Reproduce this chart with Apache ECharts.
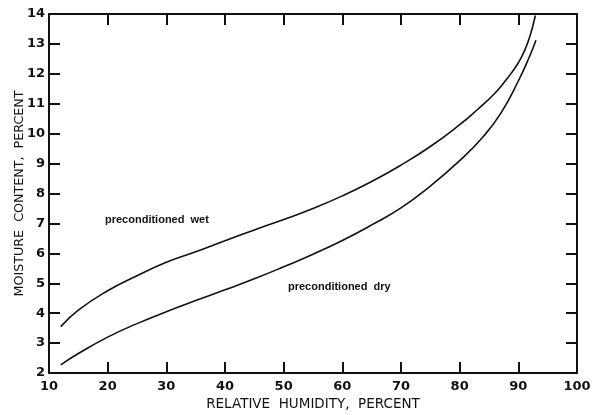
<!DOCTYPE html>
<html><head><meta charset="utf-8">
<script src="https://cdn.jsdelivr.net/npm/echarts@6/dist/echarts.min.js"></script>
<style>html,body{margin:0;padding:0;background:#fff}#c{width:603px;height:415px}</style>
</head><body><div id="c"></div>
<script>
const humidity = [12, 15, 20, 25, 30, 35, 40, 45, 50, 55, 60, 65, 70, 75, 80, 83, 86, 88, 89, 90, 91, 92, 92.9];
const wet = [3.55, 4.1, 4.75, 5.25, 5.7, 6.05, 6.42, 6.78, 7.13, 7.5, 7.92, 8.4, 8.95, 9.57, 10.3, 10.8, 11.35, 11.82, 12.08, 12.37, 12.75, 13.27, 13.95];
const humidityDry = [12, 15, 20, 25, 30, 35, 40, 45, 50, 55, 60, 65, 70, 75, 80, 84, 87, 90, 92, 93];
const dry = [2.27, 2.65, 3.2, 3.65, 4.05, 4.42, 4.78, 5.15, 5.55, 5.97, 6.43, 6.95, 7.52, 8.25, 9.1, 9.9, 10.68, 11.76, 12.62, 13.12];
const xTicks = [10, 100, 10];
const yTicks = [2, 14, 1];
const labelWet = "preconditioned  wet";
const labelDry = "preconditioned  dry";
const xName = "RELATIVE  HUMIDITY,  PERCENT";
const yName = "MOISTURE  CONTENT,  PERCENT";

const font = '"Liberation Sans", Arial, sans-serif';
const numFont = '"DejaVu Sans", sans-serif';
const chart = echarts.init(document.getElementById('c'));
const axisLine = {show: true, lineStyle: {color: '#111', width: 2}};
const tickIn = {show: true, inside: true, length: 11, lineStyle: {color: '#111', width: 2}};
chart.setOption({
  animation: false,
  backgroundColor: '#fff',
  grid: {left: 49, right: 26, top: 14, bottom: 42, containLabel: false, outerBoundsMode: 'none'},
  xAxis: [
    {type: 'value', min: xTicks[0], max: xTicks[1], interval: xTicks[2], position: 'bottom',
     axisLine, axisTick: tickIn, splitLine: {show: false},
     axisLabel: {color: '#111', fontFamily: numFont, fontWeight: 'bold', fontSize: 13, margin: 7},
     name: xName, nameLocation: 'middle', nameGap: 24, nameMoveOverlap: false,
     nameTextStyle: {color: '#111', fontFamily: numFont, fontSize: 13.5}},
    {type: 'value', min: xTicks[0], max: xTicks[1], interval: xTicks[2], position: 'top',
     axisLine, axisTick: tickIn, splitLine: {show: false}, axisLabel: {show: false}}
  ],
  yAxis: [
    {type: 'value', min: yTicks[0], max: yTicks[1], interval: yTicks[2], position: 'left',
     axisLine, axisTick: tickIn, splitLine: {show: false},
     axisLabel: {color: '#111', fontFamily: numFont, fontWeight: 'bold', fontSize: 13, margin: 4},
     name: yName, nameLocation: 'middle', nameGap: 23, nameMoveOverlap: false,
     nameTextStyle: {color: '#111', fontFamily: numFont, fontSize: 12.7}},
    {type: 'value', min: yTicks[0], max: yTicks[1], interval: yTicks[2], position: 'right',
     axisLine, axisTick: tickIn, splitLine: {show: false}, axisLabel: {show: false}}
  ],
  series: [
    {type: 'line', smooth: 0.5, showSymbol: false, data: humidity.map((h, i) => [h, wet[i]]),
     lineStyle: {color: '#111', width: 1.6}},
    {type: 'line', smooth: 0.5, showSymbol: false, data: humidityDry.map((h, i) => [h, dry[i]]),
     lineStyle: {color: '#111', width: 1.6}}
  ],
  graphic: [
    {type: 'text', left: 105, top: 214, style: {text: labelWet, fill: '#111', font: 'bold 11px ' + font}},
    {type: 'text', left: 288, top: 281, style: {text: labelDry, fill: '#111', font: 'bold 11px ' + font}}
  ]
});
</script></body></html>
